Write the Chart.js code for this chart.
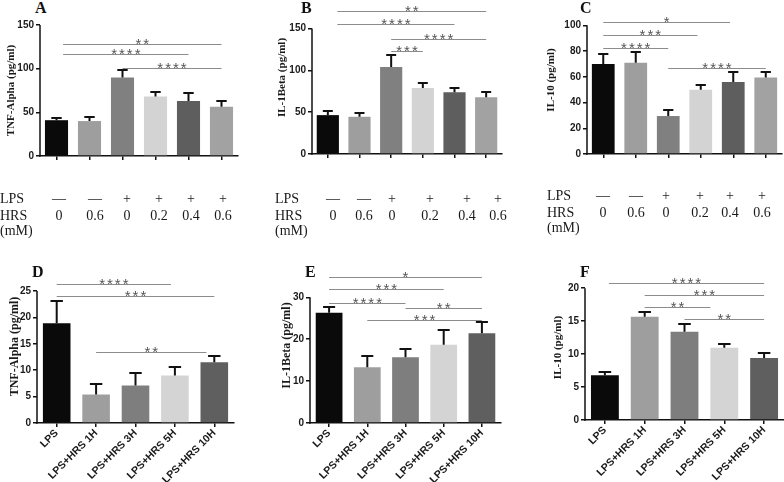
<!DOCTYPE html>
<html>
<head>
<meta charset="utf-8">
<script src="https://cdn.jsdelivr.net/npm/chart.js@4.4.1/dist/chart.umd.min.js"></script>
<style>
  html, body { margin: 0; padding: 0; background: #fff; }
  body { width: 784px; height: 482px; position: relative; overflow: hidden; }
  canvas { position: absolute; }
  .txt { position: absolute; white-space: nowrap; font-family: "Liberation Serif", "Times New Roman", serif; color: #1a1a1a; }
</style>
</head>
<body>
<script>
// ---- data ----
const lpsSigns = ['—', '—', '+', '+', '+', '+'];
const hrsDoses = ['0', '0.6', '0', '0.2', '0.4', '0.6'];
const timeGroups = ['LPS', 'LPS+HRS 1H', 'LPS+HRS 3H', 'LPS+HRS 5H', 'LPS+HRS 10H'];

const tnfDose = [41, 40, 90, 68, 63, 56.5];
const tnfDoseSem = [3, 4.5, 8.5, 5, 9, 6.5];
const il1bDose = [46.5, 44.5, 104, 79, 74, 68];
const il1bDoseSem = [5, 4, 14, 6, 5.5, 6];
const il10Dose = [70, 71, 29.5, 50, 56, 59.5];
const il10DoseSem = [7.5, 8, 4.5, 4, 7.5, 4.5];

const tnfTime = [18.9, 5.4, 7.1, 9.0, 11.5];
const tnfTimeSem = [4.3, 2, 2.3, 1.7, 1.2];
const il1bTime = [26.3, 13.3, 15.7, 18.7, 21.4];
const il1bTimeSem = [1.5, 2.7, 2, 3.5, 2.6];
const il10Time = [6.8, 15.65, 13.4, 10.95, 9.4];
const il10TimeSem = [0.5, 0.75, 1.2, 0.65, 0.7];

// significance brackets: [from bar, to bar, height (data units), stars]
const sigA = [[0.2, 5, 128, '**'], [0.2, 4, 117, '****'], [2, 5, 101, '****']];
const sigB = [[0.3, 5, 170.5, '**'], [0.3, 4, 155, '****'], [2, 5, 138, '****'], [2, 3, 123.5, '***']];
const sigC = [[0, 3.9, 102.3, '*'], [0, 2.9, 92.2, '***'], [0, 2, 82.2, '****'], [2, 5, 66.7, '****']];
const sigD = [[0, 2.9, 26.4, '****'], [0, 4, 24, '***'], [1, 3.8, 13.4, '**']];
const sigE = [[0, 4, 34.8, '*'], [0, 3, 32, '***'], [0, 2, 28.7, '****'], [2, 4, 27.5, '**'], [1, 4, 24.6, '***']];
const sigF = [[0.1, 4, 20.75, '****'], [1, 4, 18.9, '***'], [1, 2.65, 17.1, '**'], [2, 4, 15.3, '**']];

const doseColors = ['#0a0a0a', '#9e9e9e', '#808080', '#d3d3d3', '#5e5e5e', '#a2a2a2'];
const timeColors = ['#0a0a0a', '#9e9e9e', '#7e7e7e', '#d4d4d4', '#5f5f5f'];

// ---- panels ----
const panels = [
  { letter: 'A', title: 'TNF-Alpha (pg/ml)', labels: hrsDoses, values: tnfDose, sem: tnfDoseSem, sig: sigA, colors: doseColors,
    l: 40, r: 238, top: 25, bottom: 156, yMax: 150, axisTop: 150, step: 50, yW: 39, showX: false },
  { letter: 'B', title: 'IL-1Beta (pg/ml)', labels: hrsDoses, values: il1bDose, sem: il1bDoseSem, sig: sigB, colors: doseColors,
    l: 312, r: 502, top: 0.5, bottom: 153, yMax: 183, axisTop: 150, step: 50, yW: 40, showX: false },
  { letter: 'C', title: 'IL-10 (pg/ml)', labels: hrsDoses, values: il10Dose, sem: il10DoseSem, sig: sigC, colors: doseColors,
    l: 587, r: 782, top: 5.7, bottom: 154, yMax: 115, axisTop: 100, step: 20, yW: 46, showX: false },
  { letter: 'D', title: 'TNF-Alpha (pg/ml)', labels: timeGroups, values: tnfTime, sem: tnfTimeSem, sig: sigD, colors: timeColors,
    l: 37, r: 234, top: 270, bottom: 423, yMax: 29, axisTop: 25, step: 5, yW: 33, showX: true, titleSize: 12 },
  { letter: 'E', title: 'IL-1Beta (pg/ml)', labels: timeGroups, values: il1bTime, sem: il1bTimeSem, sig: sigE, colors: timeColors,
    l: 310, r: 501, top: 267.6, bottom: 423, yMax: 37, axisTop: 30, step: 10, yW: 34, showX: true, titleSize: 12 },
  { letter: 'F', title: 'IL-10 (pg/ml)', labels: timeGroups, values: il10Time, sem: il10TimeSem, sig: sigF, colors: timeColors,
    l: 585, r: 784, top: 274.8, bottom: 420, yMax: 22, axisTop: 20, step: 5, yW: 37, showX: true },
];

const letterPos = { A: [35, 13], B: [301, 13], C: [580, 13], D: [32, 277], E: [305, 277], F: [580, 277] };

const tables = [
  { x: 0, cols: [59, 95, 127, 159, 191, 223], base: [204, 221, 236] },
  { x: 275, cols: [333, 364, 392, 430, 467, 498], base: [204, 221, 236] },
  { x: 547, cols: [603, 636, 666, 700, 730, 762], base: [201, 218, 233] },
];

const ink = '#111';
const tickFont = { family: '"Liberation Sans", Arial, sans-serif', size: 10, weight: 'bold' };

// error bars, y axis line and significance brackets
const extras = {
  id: 'extras',
  afterDatasetsDraw(chart, args, opts) {
    const { ctx, chartArea } = chart;
    const xs = chart.scales.x, ys = chart.scales.y;
    ctx.save();
    ctx.strokeStyle = ink;
    ctx.lineWidth = 1.5;
    ctx.beginPath();
    ctx.moveTo(chartArea.left, ys.getPixelForValue(0) + 0.75);
    ctx.lineTo(chartArea.left, ys.getPixelForValue(opts.axisTop));
    ctx.stroke();

    ctx.lineWidth = 2;
    const vals = chart.data.datasets[0].data;
    chart.getDatasetMeta(0).data.forEach((bar, i) => {
      const top = Math.round(ys.getPixelForValue(vals[i] + opts.sem[i]));
      const cw = bar.width * 0.45;
      ctx.beginPath();
      ctx.moveTo(bar.x, bar.y);
      ctx.lineTo(bar.x, top);
      ctx.moveTo(bar.x - cw / 2, top);
      ctx.lineTo(bar.x + cw / 2, top);
      ctx.stroke();
    });

    ctx.lineWidth = 1;
    ctx.strokeStyle = '#8c8c8c';
    ctx.fillStyle = '#555';
    ctx.font = '15px "Liberation Sans", Arial, sans-serif';
    ctx.letterSpacing = '2px';
    ctx.textAlign = 'center';
    opts.sig.forEach(([a, b, lvl, stars]) => {
      const x1 = xs.getPixelForValue(a), x2 = xs.getPixelForValue(b);
      const y = Math.round(ys.getPixelForValue(lvl)) + 0.5;
      ctx.beginPath();
      ctx.moveTo(x1, y);
      ctx.lineTo(x2, y);
      ctx.stroke();
      ctx.fillText(stars, (x1 + x2) / 2 + 1, y + 4);
    });
    ctx.restore();
  }
};

panels.forEach(p => {
  const padTop = 8, padRight = 2;
  const xH = p.showX ? 482 - p.bottom : 8;
  const left = p.l - p.yW;
  const top = p.top - padTop;
  const cv = document.createElement('canvas');
  cv.width = p.r - left + padRight;
  cv.height = Math.round(p.bottom - top + xH);
  cv.style.left = left + 'px';
  cv.style.top = top + 'px';
  document.body.appendChild(cv);

  new Chart(cv, {
    type: 'bar',
    data: {
      labels: p.labels,
      datasets: [{
        data: p.values,
        backgroundColor: p.colors,
        barPercentage: 0.7,
        categoryPercentage: 1,
      }],
    },
    options: {
      responsive: false,
      animation: false,
      devicePixelRatio: 1,
      layout: { padding: { top: padTop, right: padRight, left: 0, bottom: 0 } },
      plugins: {
        legend: { display: false },
        tooltip: { enabled: false },
        extras: { sem: p.sem, sig: p.sig, axisTop: p.axisTop },
      },
      scales: {
        x: {
          grid: { drawOnChartArea: false, offset: false, color: ink, lineWidth: 1.5, tickLength: 4 },
          border: { color: ink, width: 1.5 },
          ticks: {
            display: p.showX,
            font: { family: tickFont.family, size: 10.5, weight: 'bold' },
            color: '#1a1a1a',
            minRotation: 45,
            maxRotation: 45,
            autoSkip: false,
            padding: 0,
          },
          afterFit: (s) => { s.height = xH; },
        },
        y: {
          min: 0,
          max: p.yMax,
          ticks: { stepSize: p.step, font: tickFont, color: '#1a1a1a', padding: 2 },
          grid: { drawOnChartArea: false, color: ink, lineWidth: 1.5, tickLength: 4 },
          border: { display: false },
          title: {
            display: true,
            text: p.title,
            color: '#1a1a1a',
            font: { family: '"Liberation Serif", "Times New Roman", serif', size: p.titleSize || 11, weight: 'bold' },
            padding: { top: 4, bottom: 0 },
          },
          afterBuildTicks: (s) => { s.ticks = s.ticks.filter(t => t.value <= p.axisTop); },
          afterFit: (s) => { s.width = p.yW; },
        },
      },
    },
    plugins: [extras],
  });

  const [lx, lb] = letterPos[p.letter];
  const d = document.createElement('div');
  d.className = 'txt';
  d.textContent = p.letter;
  d.style.cssText = `left:${lx}px;top:${lb - 13.4}px;font-size:16px;line-height:16px;font-weight:bold;color:#111;`;
  document.body.appendChild(d);
});

// LPS / HRS treatment table under the top row
const addText = (text, x, base, center) => {
  const s = document.createElement('div');
  s.className = 'txt';
  s.textContent = text;
  s.style.cssText = `left:${x}px;top:${base - 11.7}px;font-size:14px;line-height:14px;` +
    (center ? 'transform:translateX(-50%);' : '');
  document.body.appendChild(s);
};
tables.forEach(t => {
  addText('LPS', t.x, t.base[0], false);
  addText('HRS', t.x, t.base[1], false);
  addText('(mM)', t.x, t.base[2], false);
  t.cols.forEach((cx, i) => {
    addText(lpsSigns[i], cx, t.base[0], true);
    addText(hrsDoses[i], cx, t.base[1], true);
  });
});
</script>
</body>
</html>
